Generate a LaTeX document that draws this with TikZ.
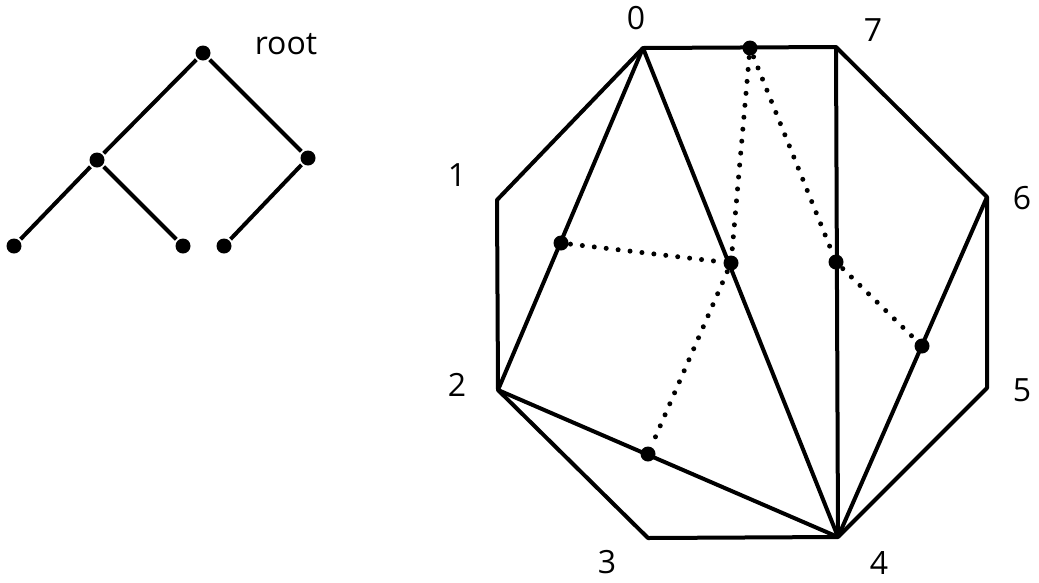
\documentclass[tikz,border=0pt]{standalone}
\usepackage{fontspec}
\setmainfont{Open Sans}
\usetikzlibrary{positioning}

\begin{document}
\begin{tikzpicture}[x=1pt,y=-1pt,line width=4pt,
        dot/.style={circle,fill=black,inner sep=0pt,minimum size=15pt},
        lbl/.style={font=\fontsize{32}{34}\selectfont},
        dual/.style={dash pattern=on 0pt off 12pt,line cap=round,line width=5pt}]
        \useasboundingbox (0,0) rectangle (1039,582);
        % tree
        \node[dot] (r) at (203,53) {};
        \node[dot] (a) at (97,160) {};
        \node[dot] (b) at (308,158) {};
        \node[dot] (c) at (14,246) {};
        \node[dot] (d) at (183,246) {};
        \node[dot] (e) at (224,246) {};
        \draw (a) -- (r) -- (b);
        \draw (c) -- (a) -- (d);
        \draw (b) -- (e);
        \node[lbl] at (286,44) {root};
        % polygon
        \coordinate (P0) at (643,48);
        \coordinate (P7) at (836,47);
        \coordinate (P6) at (987,197);
        \coordinate (P5) at (987,388);
        \coordinate (P4) at (838,537);
        \coordinate (P3) at (648,538);
        \coordinate (P2) at (498,390);
        \coordinate (P1) at (497,200);
        \draw[line join=round] (P0) -- (P7) -- (P6) -- (P5) -- (P4) -- (P3) -- (P2) -- (P1) -- cycle;
        \draw (P0) -- (P2);
        \draw (P0) -- (P4);
        \draw (P7) -- (P4);
        \draw (P2) -- (P4);
        \draw (P6) -- (P4);
        \node[lbl] at (636,18) {0};
        \node[lbl] at (873,30) {7};
        \node[lbl] at (457,175) {1};
        \node[lbl] at (1022,198) {6};
        \node[lbl] at (457,385) {2};
        \node[lbl] at (1022,390) {5};
        \node[lbl] at (607,562) {3};
        \node[lbl] at (879,563) {4};
        % dual tree
        \node[dot] (t0) at (750,48) {};
        \node[dot] (t1) at (561,243) {};
        \node[dot] (t2) at (731,263) {};
        \node[dot] (t3) at (836,262) {};
        \node[dot] (t4) at (922,346) {};
        \node[dot] (t5) at (648,454) {};
        \draw[dual] (t0) -- (t2);
        \draw[dual] (t0) -- (t3);
        \draw[dual] (t1) -- (t2);
        \draw[dual] (t2) -- (t5);
        \draw[dual] (t3) -- (t4);
    \end{tikzpicture}
\end{document}
